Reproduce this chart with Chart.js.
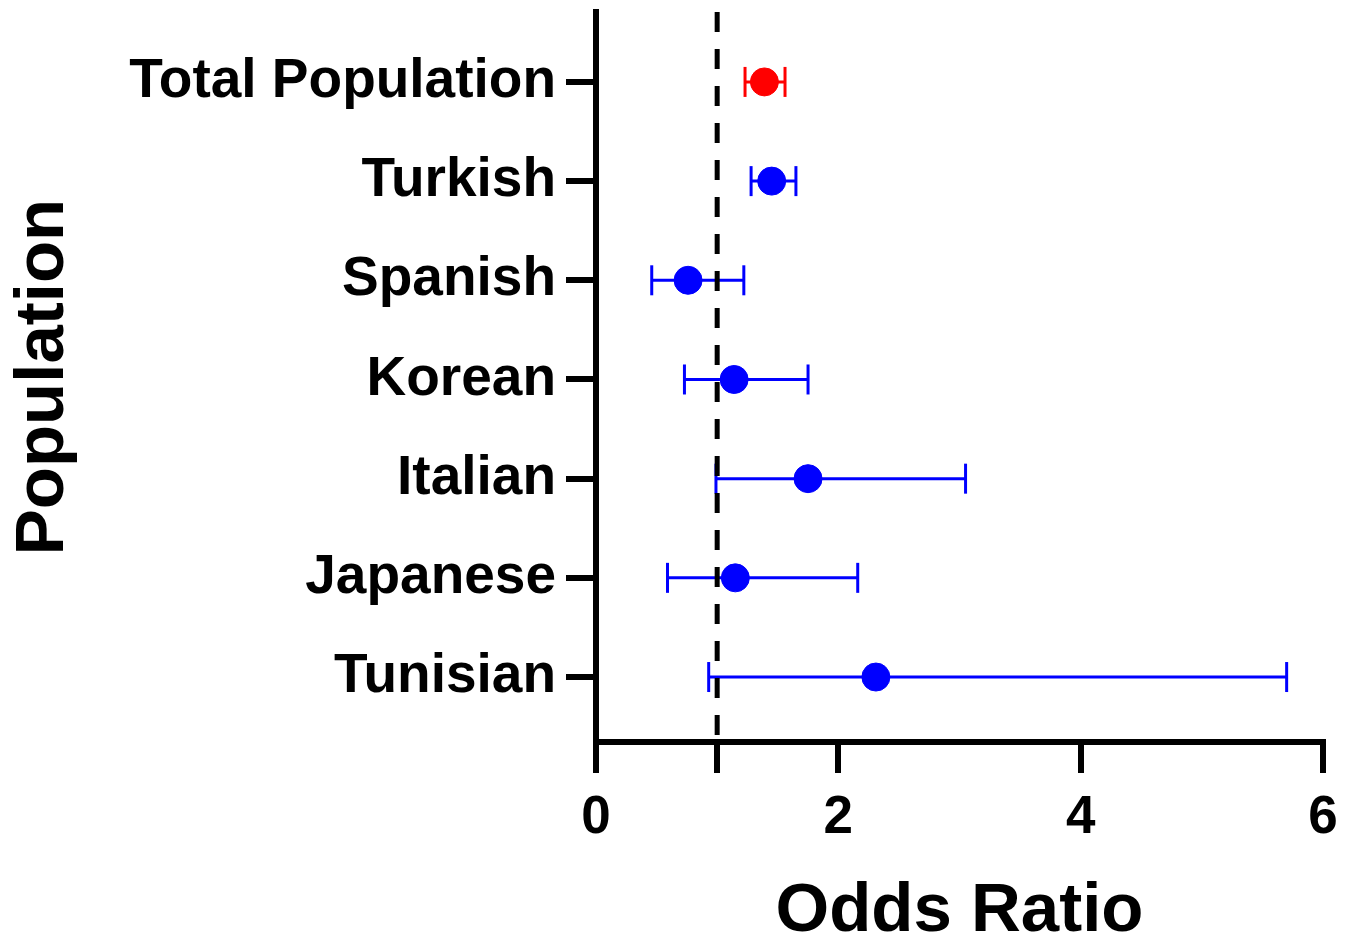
<!DOCTYPE html>
<html>
<head>
<meta charset="utf-8">
<script src="https://cdn.jsdelivr.net/npm/chart.js@4.4.1/dist/chart.umd.min.js"></script>
<style>
  html, body { margin: 0; padding: 0; background: #fff; }
  #wrap { width: 1355px; height: 940px; }
</style>
</head>
<body>
<div id="wrap"><canvas id="forest" width="1355" height="940"></canvas></div>
<script>
const categories = ['Total Population', 'Turkish', 'Spanish', 'Korean', 'Italian', 'Japanese', 'Tunisian'];
const oddsRatio = [1.39, 1.45, 0.76, 1.14, 1.75, 1.15, 2.31];
const ciLower = [1.23, 1.28, 0.46, 0.73, 0.99, 0.59, 0.93];
const ciUpper = [1.56, 1.65, 1.22, 1.75, 3.05, 2.16, 5.70];
const pointColors = ['#ff0000', '#0000ff', '#0000ff', '#0000ff', '#0000ff', '#0000ff', '#0000ff'];
const xTicks = [0, 1, 2, 4, 6];
const refLine = 1;

const FONT = '"Liberation Sans", Arial, Helvetica, sans-serif';
const Y_MIN = -0.705;
const Y_MAX = 6.655;

// error bars: one short line per row, caps drawn as rotated 'line' points
const ciSets = categories.map((c, i) => ({
    type: 'line',
    label: c + ' CI',
    data: [{ x: ciLower[i], y: i }, { x: ciUpper[i], y: i }],
    borderColor: pointColors[i],
    borderWidth: 3,
    pointStyle: 'line',
    rotation: 90,
    pointRadius: 15,
    pointBorderWidth: 3,
    pointBorderColor: pointColors[i],
    pointHoverRadius: 15,
    fill: false
}));

const datasets = [
    {
        type: 'line',
        label: 'reference',
        data: [{ x: refLine, y: Y_MIN }, { x: refLine, y: Y_MAX }],
        borderColor: '#000',
        borderWidth: 5,
        borderDash: [20, 17],
        pointRadius: 0,
        fill: false
    },
    ...ciSets,
    {
        type: 'scatter',
        label: 'Odds Ratio',
        data: oddsRatio.map((v, i) => ({ x: v, y: i })),
        backgroundColor: pointColors,
        borderColor: pointColors,
        pointRadius: 14,
        pointHoverRadius: 14
    }
];

new Chart(document.getElementById('forest').getContext('2d'), {
    type: 'scatter',
    data: { datasets: datasets },
    options: {
        responsive: false,
        animation: false,
        layout: { autoPadding: false, padding: { left: 0, right: 32, top: 12, bottom: 0 } },
        plugins: { legend: { display: false }, tooltip: { enabled: false } },
        scales: {
            x: {
                type: 'linear',
                min: 0,
                max: 6,
                afterFit: scale => { scale.height = 198; scale.paddingLeft = 0; },
                afterBuildTicks: scale => { scale.ticks = xTicks.map(v => ({ value: v })); },
                border: { display: true, color: '#000', width: 6 },
                grid: { display: true, drawOnChartArea: false, drawTicks: true, tickLength: 31, color: '#000', lineWidth: 6 },
                ticks: {
                    color: '#000',
                    padding: 14,
                    font: { family: FONT, size: 53, weight: 'bold' },
                    callback: v => (v === refLine ? '' : v)
                },
                title: {
                    display: true,
                    text: 'Odds Ratio',
                    color: '#000',
                    font: { family: FONT, size: 69, weight: 'bold', lineHeight: 0.8 },
                    padding: { top: 0, bottom: 0 }
                }
            },
            y: {
                type: 'linear',
                reverse: true,
                min: Y_MIN,
                max: Y_MAX,
                afterFit: scale => { scale.width = 596; scale.paddingTop = 0; scale.paddingBottom = 0; },
                afterBuildTicks: scale => { scale.ticks = categories.map((c, i) => ({ value: i })); },
                border: { display: true, color: '#000', width: 6 },
                grid: { display: true, drawOnChartArea: false, drawTicks: true, tickLength: 30, color: '#000', lineWidth: 6 },
                ticks: {
                    color: '#000',
                    padding: 10,
                    font: { family: FONT, size: 55, weight: 'bold' },
                    callback: v => categories[v]
                },
                title: {
                    display: true,
                    text: 'Population',
                    color: '#000',
                    font: { family: FONT, size: 69, weight: 'bold', lineHeight: 1 },
                    padding: { top: 9, bottom: 0 }
                }
            }
        }
    }
});
</script>
</body>
</html>
